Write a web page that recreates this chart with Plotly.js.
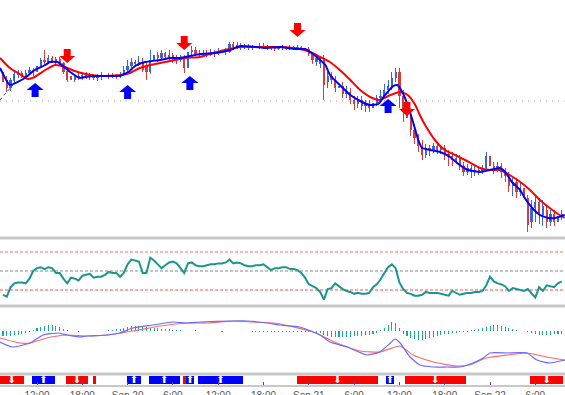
<!DOCTYPE html>
<html><head><meta charset="utf-8">
<script src="https://cdn.plot.ly/plotly-3.0.1.min.js"></script>
<style>html,body{margin:0;padding:0;background:#fff;}#chart{width:565px;height:395px;}</style>
</head><body><div id="chart"></div>
<script>
// ---- time axis (hours since Sep 19 00:00), 30-minute bars ----
const firstBarHour = 7.5;
const barStepHours = 0.5;
const tickHours = [12, 18, 24, 30, 36, 42, 48, 54, 60, 66, 72, 78];
const tickLabels = ["12:00", "18:00", "Sep 20", "6:00", "12:00", "18:00", "Sep 21", "6:00", "12:00", "18:00", "Sep 22", "6:00"];

// ---- price candles ----
const openP = [1168,1160,1152,1159,1165,1167,1164,1167,1170,1168,
1174,1180,1178,1182,1179,1181,1177,1169,1164,1160,
1164,1162,1165,1163,1164,1162,1164,1163,1165,1163,
1164,1163,1166,1170,1174,1178,1176,1178,1174,1168,
1180,1185,1182,1187,1183,1185,1182,1180,1182,1172,
1188,1190,1186,1185,1187,1185,1188,1186,1189,1190,
1188,1196,1193,1195,1193,1194,1192,1193,1192,1194,
1193,1192,1193,1191,1192,1193,1192,1193,1192,1193,
1192,1191,1186,1178,1176,1180,1158,1164,1160,1152,
1154,1146,1148,1140,1136,1140,1134,1136,1132,1137,
1142,1144,1150,1154,1162,1168,1144,1130,1122,1110,
1102,1094,1085,1092,1090,1094,1090,1092,1086,1084,
1080,1082,1074,1068,1072,1068,1070,1068,1072,1084,
1074,1072,1074,1068,1064,1054,1058,1048,1052,1042,
1018,1032,1038,1025,1030,1018,1026,1018,1024];
const highP = [1170,1164,1162,1168,1170,1169,1170,1173,1172,1178,
1182,1190,1185,1184,1183,1183,1178,1171,1166,1166,
1167,1168,1168,1167,1166,1166,1168,1167,1167,1167,
1166,1168,1174,1180,1182,1180,1184,1182,1178,1190,
1192,1188,1190,1188,1190,1187,1185,1185,1185,1192,
1194,1193,1190,1190,1190,1191,1190,1192,1193,1192,
1198,1198,1198,1197,1196,1196,1195,1195,1197,1197,
1195,1194,1194,1194,1195,1194,1195,1194,1195,1194,
1194,1193,1188,1184,1183,1185,1168,1168,1164,1158,
1158,1154,1152,1144,1144,1144,1140,1140,1140,1145,
1150,1156,1160,1168,1172,1172,1150,1140,1126,1116,
1106,1100,1096,1095,1097,1096,1094,1095,1090,1088,
1086,1085,1078,1076,1075,1074,1072,1075,1088,1088,
1078,1078,1077,1072,1068,1062,1062,1058,1055,1045,
1040,1044,1042,1040,1035,1030,1030,1028,1030];
const lowP = [1154,1148,1149,1156,1162,1162,1161,1165,1164,1166,
1172,1174,1176,1177,1176,1174,1166,1158,1158,1158,
1160,1160,1161,1160,1160,1159,1160,1162,1161,1162,
1161,1162,1164,1168,1172,1173,1174,1168,1160,1166,
1177,1178,1180,1180,1178,1177,1176,1178,1167,1170,
1185,1184,1182,1183,1183,1184,1183,1185,1186,1185,
1187,1190,1191,1190,1191,1190,1190,1190,1191,1191,
1190,1190,1189,1190,1190,1190,1190,1190,1190,1190,
1189,1184,1176,1174,1172,1140,1152,1156,1148,1146,
1142,1142,1136,1130,1132,1130,1128,1128,1125,1134,
1138,1142,1146,1150,1158,1132,1118,1112,1104,1096,
1088,1080,1082,1084,1087,1086,1086,1080,1074,1074,
1076,1070,1064,1065,1062,1064,1065,1066,1070,1070,
1066,1068,1062,1058,1048,1044,1042,1044,1036,1008,
1012,1018,1016,1014,1012,1014,1014,1016,1020];
const closeP = [1158,1152,1160,1166,1168,1164,1167,1170,1168,1174,
1180,1178,1182,1179,1181,1177,1168,1160,1160,1164,
1162,1165,1163,1164,1162,1164,1163,1165,1163,1164,
1163,1166,1170,1174,1178,1176,1178,1170,1168,1180,
1185,1182,1187,1183,1185,1182,1180,1182,1172,1188,
1190,1186,1185,1187,1185,1188,1186,1189,1190,1188,
1196,1193,1195,1193,1194,1192,1193,1192,1194,1193,
1192,1193,1191,1192,1193,1192,1193,1192,1193,1192,
1191,1186,1180,1182,1180,1155,1164,1160,1152,1154,
1146,1148,1140,1136,1140,1134,1136,1132,1137,1142,
1144,1150,1154,1162,1168,1144,1130,1122,1110,1102,
1094,1085,1092,1090,1094,1090,1092,1086,1084,1080,
1082,1074,1068,1072,1068,1070,1068,1072,1084,1074,
1072,1074,1068,1064,1054,1058,1048,1052,1042,1015,
1032,1038,1025,1034,1018,1026,1018,1024,1026];

// ---- moving averages ----
const fastMaTimes = [7.1,8.4,10.4,11.7,13.1,13.7,14.7,15.3,16.4,17.7,18.4,19.7,21.7,23.0,24.1,25.0,26.3,28.3,29.6,30.9,32.3,33.6,35.6,37.6,38.9,40.9,42.2,44.2,46.2,47.5,48.2,49.2,50.2,50.8,52.1,53.5,54.8,56.1,57.2,58.1,59.2,59.7,60.3,61.1,61.8,62.5,63.0,64.1,65.4,66.7,68.0,69.1,70.7,72.0,73.3,74.0,74.9,76.0,76.6,77.6,78.6,79.7,80.6,81.9];
const fastMa = [1172,1155,1162,1170,1175,1178,1178,1175,1168,1162,1163,1164,1164,1164,1168,1174,1178,1180,1182,1182,1184,1186,1187,1190,1194,1193,1192,1193,1191,1191,1188,1182,1175,1165,1155,1145,1139,1135,1136,1145,1154,1155,1149,1135,1118,1100,1092,1090,1088,1083,1075,1070,1068,1070,1072,1068,1058,1050,1042,1032,1025,1022,1022,1025];
const slowMaTimes = [7.1,8.4,9.7,10.8,11.7,13.1,14.4,15.7,17.0,18.4,20.3,23.0,24.3,25.6,27.0,28.3,30.3,31.6,33.6,34.9,36.9,38.9,41.5,44.2,46.8,48.2,49.5,50.8,52.1,53.5,54.8,56.4,57.4,58.8,60.1,61.1,62.1,62.7,63.4,64.7,66.0,67.4,68.7,70.7,72.0,73.3,74.6,76.0,77.3,78.6,79.9,81.0,81.9];
const slowMa = [1182,1172,1166,1161,1163,1170,1175,1173,1169,1166,1164,1165,1167,1172,1175,1177,1180,1182,1183,1186,1190,1193,1193,1193,1191,1188,1183,1178,1170,1160,1150,1142,1140,1145,1148,1145,1135,1125,1115,1100,1090,1085,1080,1072,1070,1070,1065,1058,1050,1040,1032,1026,1022];
const pivotLevel = 1139;
const trendTimes = [7.1, 8.8];
const trendValues = [1140, 1155];

// ---- buy / sell arrows ----
const buyTimes = [11.75, 24.0, 32.25, 58.5];
const buyPrices = [1150, 1148, 1157, 1134];
const sellTimes = [16.0, 31.5, 46.5, 61.0];
const sellPrices = [1184, 1197, 1210, 1131];

// ---- RSI ----
const rsi = [25,23,33,37,38,38,37,42,50,53,
54,52,54,53,48,48,42,37,43,42,
40,45,46,47,43,44,44,46,49,48,
48,44,48,57,62,61,60,48,48,64,
61,57,53,56,59,60,58,53,48,58,
59,56,55,55,56,57,57,58,58,59,
62,58,59,58,56,55,55,56,56,57,
54,51,53,53,54,54,52,52,51,48,
43,36,34,32,28,20,31,32,37,34,
31,29,28,26,27,26,26,27,33,36,
41,48,54,57,53,38,31,27,26,24,
24,25,28,27,27,27,26,25,24,29,
27,25,26,27,27,28,28,29,35,44,
39,37,36,34,29,32,31,30,29,31,
27,22,33,29,35,34,33,37,39];
const rsiUpper = 70, rsiMid = 50, rsiLower = 30;

// ---- MACD ----
const macdHist = [-0.5,-0.5,-0.45,-0.4,-0.35,-0.3,-0.2,-0.1,0.1,0.3,
0.4,0.5,0.6,0.6,0.5,0.4,0.2,0.1,0.05,0,
-0.05,0.05,0,0,0,0,0.05,0.05,0.1,0.1,
0.2,0.2,0.3,0.4,0.5,0.5,0.5,0.4,0.4,0.3,
0.3,0.3,0.25,0.2,0.2,0.15,0.1,0.1,0.05,0.05,
0.05,0.1,0.05,0.05,0.05,0.05,0,0.05,-0.05,0.05,
0.05,0.05,0.05,0.05,0.05,0,-0.05,-0.05,-0.05,-0.05,
-0.05,-0.05,-0.05,-0.05,-0.05,-0.05,-0.05,-0.1,-0.1,-0.1,
-0.1,-0.1,-0.1,-0.15,-0.2,-0.4,-0.5,-0.55,-0.6,-0.6,
-0.6,-0.55,-0.55,-0.5,-0.5,-0.45,-0.4,-0.35,-0.3,-0.2,
0.1,0.3,0.6,0.9,0.8,0.3,-0.3,-0.5,-0.7,-0.8,
-0.9,-0.9,-0.8,-0.7,-0.6,-0.5,-0.4,-0.3,-0.25,-0.2,
-0.15,-0.1,-0.05,-0.05,0.1,0.15,0.2,0.3,0.4,0.5,
0.6,0.6,0.5,0.4,0.3,0.2,0.1,0.05,0,-0.1,
-0.2,-0.3,-0.4,-0.4,-0.4,-0.35,-0.3,-0.3,-0.3];
const macdMainTimes = [7.1,8.7,11.1,12.8,14.8,16.0,17.7,18.6,21.3,23.0,24.7,27.4,30.0,31.9,33.6,38.0,39.8,42.5,44.2,46.8,49.5,50.8,53.1,55.7,57.4,58.8,59.4,60.1,61.4,62.7,64.5,66.3,68.0,69.7,71.1,72.0,74.3,76.9,78.2,79.9,81.9];
const macdMain = [-1.1,-1.6,-1.2,-0.4,-0.2,-0.4,-0.6,-0.5,-0.4,-0.2,0.3,0.6,0.9,0.8,0.9,1.0,1.0,0.8,0.6,0.4,-0.4,-1.1,-1.6,-2.4,-2.1,-1.2,-0.8,-1.2,-2.6,-3.4,-3.6,-3.6,-3.6,-3.2,-2.7,-2.2,-2.2,-2.2,-2.9,-3.2,-2.9];
const macdSignalTimes = [7.1,9.7,11.1,13.3,16.0,18.6,21.3,24.7,28.3,31.9,34.5,38.0,40.6,43.3,44.2,48.6,51.7,54.8,57.4,60.1,61.8,64.5,67.6,69.3,71.5,74.3,76.9,79.5,81.9];
const macdSignal = [-0.7,-1.2,-1.2,-0.7,-0.4,-0.5,-0.4,0.0,0.5,0.8,0.8,1.0,0.9,0.8,0.7,-0.1,-1.2,-2.0,-2.1,-1.5,-2.4,-3.1,-3.5,-3.4,-2.7,-2.4,-2.2,-2.6,-2.9];

// ---- signal state bar ----
const signalStart = [7.0, 11.3, 15.8, 19.4, 23.9, 26.8, 31.3, 31.7, 33.3, 46.4, 58.2, 60.7, 77.3];
const signalEnd   = [10.3, 14.4, 18.8, 19.8, 25.8, 30.9, 31.7, 32.8, 39.3, 57.2, 59.3, 68.8, 81.7];
const signalDir   = ['down','up','down','down','up','up','down','up','up','down','up','down','down'];

// ================= drawing =================
const barTimes = closeP.map((_, i) => firstBarHour + i * barStepHours);
const RED = '#ff0000', BLUE = '#0000ff';
const candleColor = closeP.map((c, i) => c >= openP[i] ? '#3568d6' : '#d63c3c');

const traces = [
  // candle wicks
  { type: 'bar', x: barTimes, base: lowP, y: highP.map((h, i) => h - lowP[i]), width: 0.12,
    xaxis: 'x', yaxis: 'y', marker: { color: candleColor, line: { width: 0 } }, hoverinfo: 'skip' },
  // candle bodies
  { type: 'bar', x: barTimes, base: openP.map((o, i) => Math.min(o, closeP[i])),
    y: openP.map((o, i) => Math.max(Math.abs(closeP[i] - o), 0.8)), width: 0.3,
    xaxis: 'x', yaxis: 'y', marker: { color: candleColor, line: { width: 0 } }, hoverinfo: 'skip' },
  { type: 'scatter', mode: 'lines', x: trendTimes, y: trendValues, xaxis: 'x', yaxis: 'y',
    line: { color: '#555', width: 1, dash: 'dot' }, hoverinfo: 'skip' },
  { type: 'scatter', mode: 'lines', x: slowMaTimes, y: slowMa, xaxis: 'x', yaxis: 'y',
    line: { color: RED, width: 2, shape: 'spline', smoothing: 0.6 }, hoverinfo: 'skip' },
  { type: 'scatter', mode: 'lines', x: fastMaTimes, y: fastMa, xaxis: 'x', yaxis: 'y',
    line: { color: BLUE, width: 2, shape: 'spline', smoothing: 0.4 }, hoverinfo: 'skip' },
  { type: 'scatter', mode: 'lines', x: barTimes, y: rsi, xaxis: 'x', yaxis: 'y2',
    line: { color: '#18968f', width: 2 }, hoverinfo: 'skip' },
  { type: 'bar', x: barTimes, y: macdHist, xaxis: 'x', yaxis: 'y3', width: 0.14,
    marker: { color: '#1fa39b', line: { width: 0 } }, hoverinfo: 'skip' },
  { type: 'scatter', mode: 'lines', x: macdSignalTimes, y: macdSignal, xaxis: 'x', yaxis: 'y3',
    line: { color: '#ff6b6b', width: 1.2, shape: 'spline', smoothing: 0.5 }, hoverinfo: 'skip' },
  { type: 'scatter', mode: 'lines', x: macdMainTimes, y: macdMain, xaxis: 'x', yaxis: 'y3',
    line: { color: '#6a6aff', width: 1.2, shape: 'spline', smoothing: 0.5 }, hoverinfo: 'skip' },
  { type: 'bar', x: signalStart, y: signalStart.map(() => 1), base: 0, offset: 0,
    width: signalStart.map((s, i) => signalEnd[i] - s), xaxis: 'x', yaxis: 'y4',
    marker: { color: signalDir.map(d => d === 'up' ? BLUE : RED), line: { width: 0 } }, hoverinfo: 'skip' },
  { type: 'scatter', mode: 'text', x: signalStart.map((s, i) => (s + signalEnd[i]) / 2),
    y: signalStart.map(() => 0.5), xaxis: 'x', yaxis: 'y4',
    text: signalDir.map((d, i) => (signalEnd[i] - signalStart[i]) < 0.8 ? '' : (d === 'up' ? '⬆' : '⬇')),
    textfont: { color: '#ffffff', size: 10, family: 'DejaVu Sans' }, hoverinfo: 'skip' }
];

const upPath = 'M0,7 L8.5,0 L3.5,0 L3.5,-7 L-3.5,-7 L-3.5,0 L-8.5,0 Z';
const downPath = 'M0,-7 L8,0 L3.5,0 L3.5,7 L-3.5,7 L-3.5,0 L-8,0 Z';
const arrowShape = (t, p, path, color) => ({ type: 'path', xref: 'x', yref: 'y',
  xsizemode: 'pixel', ysizemode: 'pixel', xanchor: t, yanchor: p, path: path,
  fillcolor: color, line: { width: 0 }, layer: 'above' });

const sep = (py) => ({ type: 'line', xref: 'paper', yref: 'paper', x0: 0, x1: 1, y0: py, y1: py,
  line: { color: '#c8c8c8', width: 3 }, layer: 'above' });
const lvl = (v, color, dash, w) => ({ type: 'line', xref: 'paper', yref: 'y2', x0: 0, x1: 1, y0: v, y1: v,
  line: { color: color, width: w, dash: dash }, layer: 'below' });

const shapes = [
  { type: 'line', xref: 'paper', yref: 'y', x0: 0, x1: 1, y0: pivotLevel, y1: pivotLevel,
    line: { color: '#aaaaaa', width: 1, dash: '1px,5px' }, layer: 'below' },
  lvl(rsiUpper, '#ff6a6a', '3px,2px', 1),
  lvl(rsiMid, '#c4c4c4', '3px,2px', 2),
  lvl(rsiLower, '#ff8a8a', '3px,2px', 1.5),
  sep(1 - 238 / 386), sep(1 - 306 / 386), sep(1 - 374 / 386)
];
buyTimes.forEach((t, i) => shapes.push(arrowShape(t, buyPrices[i], upPath, BLUE)));
sellTimes.forEach((t, i) => shapes.push(arrowShape(t, sellPrices[i], downPath, RED)));

const layout = {
  width: 565, height: 395, margin: { l: 0, r: 0, t: 0, b: 9 },
  paper_bgcolor: '#ffffff', plot_bgcolor: '#ffffff', showlegend: false, barmode: 'overlay', bargap: 0,
  xaxis: { domain: [0, 1], range: [7.1, 81.93], anchor: 'y4', tickmode: 'array',
    tickvals: tickHours, ticktext: tickLabels, ticks: 'inside', ticklen: 3, tickcolor: '#6a3d9a',
    tickfont: { family: 'Liberation Sans', size: 10, color: '#555' },
    showgrid: false, zeroline: false, showline: true, linecolor: '#c8c8c8', linewidth: 2,
    fixedrange: true },
  yaxis: { domain: [1 - 237 / 386, 1], range: [1003, 1240], visible: false, fixedrange: true },
  yaxis2: { domain: [1 - 306 / 386, 1 - 238 / 386], range: [13.2, 84.7], visible: false, fixedrange: true },
  yaxis3: { domain: [1 - 374 / 386, 1 - 306 / 386], range: [-4.3, 2.5], visible: false, fixedrange: true },
  yaxis4: { domain: [1 - 385 / 386, 1 - 375 / 386], range: [-0.1, 1.1], visible: false, fixedrange: true },
  shapes: shapes
};

Plotly.newPlot('chart', traces, layout, { staticPlot: true, displayModeBar: false });
</script></body></html>
